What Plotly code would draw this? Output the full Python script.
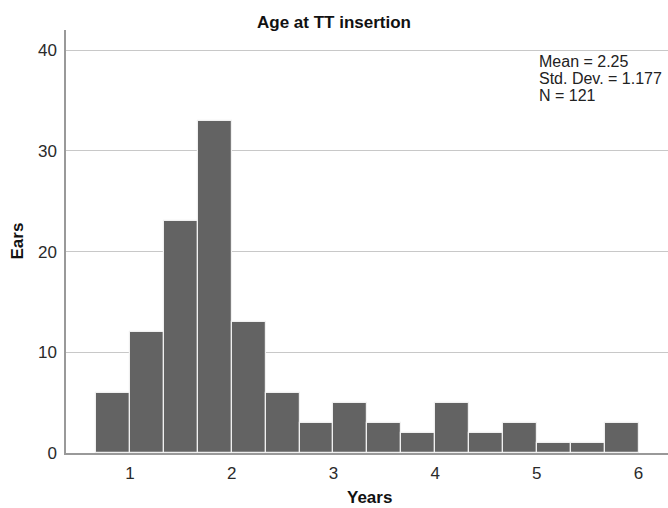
import plotly.graph_objects as go

# Histogram data (bins of width 1/3 year starting at 2/3)
bin_start = 2 / 3
bin_width = 1 / 3
counts = [6, 12, 23, 33, 13, 6, 3, 5, 3, 2, 5, 2, 3, 1, 1, 3]
x_ticks = [1, 2, 3, 4, 5, 6]
y_ticks = [0, 10, 20, 30, 40]
stats_lines = ["Mean = 2.25", "Std. Dev. = 1.177", "N = 121"]

centers = [bin_start + bin_width * (i + 0.5) for i in range(len(counts))]

W, H = 668, 508
L, R, T, B = 66, 0, 30, 55
plot_h = H - T - B
plot_w = W - L - R

fig = go.Figure()
fig.add_trace(go.Bar(
    x=centers, y=counts, width=[bin_width] * len(counts),
    marker=dict(color="#636363", line=dict(color="#f0f0f0", width=1.2)),
    hoverinfo="x+y", showlegend=False,
))

font_family = "Liberation Sans, Arial, sans-serif"

annotations = []
# stats box lines
for i, line in enumerate(stats_lines):
    y_px = 61.5 + 17 * i
    annotations.append(dict(text=line, x=(537 - L) / plot_w, y=(H - B - y_px) / plot_h,
                            xref="paper", yref="paper", xanchor="left", yanchor="middle",
                            align="left", showarrow=False,
                            font=dict(size=16, color="#222222")))
# axis titles
annotations.append(dict(text="<b>Ears</b>", x=(17 - L) / plot_w, y=0.5, xref="paper",
                        yref="paper", xanchor="center", yanchor="middle", textangle=-90,
                        showarrow=False, font=dict(size=17, color="#111111")))
annotations.append(dict(text="<b>Years</b>", x=(369 - L) / plot_w, y=(H - B - 497.5) / plot_h,
                        xref="paper", yref="paper", xanchor="center", yanchor="middle",
                        showarrow=False, font=dict(size=17, color="#111111")))

fig.update_layout(
    width=W, height=H,
    margin=dict(l=L, r=R, t=T, b=B),
    paper_bgcolor="white", plot_bgcolor="white",
    font=dict(family=font_family, color="#2a2a2a", size=17),
    title=dict(text="<b>Age at TT insertion</b>", x=0.5, xanchor="center",
               y=1 - 22 / H, yanchor="middle",
               font=dict(size=17, color="#111111")),
    bargap=0,
    xaxis=dict(range=[0.37, 6.29], tickvals=x_ticks, ticktext=[str(t) for t in x_ticks],
               showgrid=False, zeroline=False, showline=True, linecolor="#999999",
               linewidth=1.5, ticks="", automargin=False, ticklabelstandoff=4),
    yaxis=dict(range=[0, 42], tickvals=y_ticks, showgrid=True, gridcolor="#c8c8c8",
               gridwidth=1.3, zeroline=False, showline=True, linecolor="#999999",
               linewidth=1.5, ticks="", ticklabelstandoff=4, automargin=False),
    annotations=annotations,
)

fig.write_html("out.html", config={"displayModeBar": False},
               post_script="document.body.style.margin='0';document.body.style.overflow='hidden';")
